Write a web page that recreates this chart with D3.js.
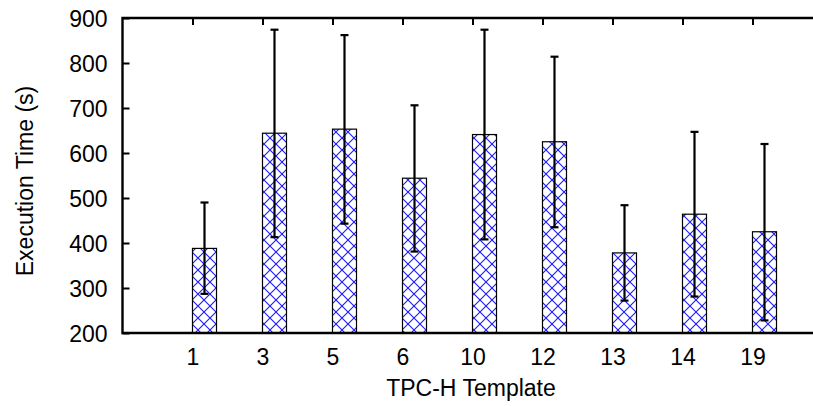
<!DOCTYPE html>
<html>
<head>
<meta charset="utf-8">
<script src="https://cdn.jsdelivr.net/npm/d3@7/dist/d3.min.js"></script>
<style>
  html, body { margin: 0; padding: 0; background: #fff; overflow: hidden; }
  svg { display: block; }
  text { font-family: "Liberation Sans", Arial, Helvetica, sans-serif; fill: #000; }
</style>
</head>
<body>
<svg id="chart" width="813" height="406"></svg>
<script>
// ---- data ----
const categories = ["1", "3", "5", "6", "10", "12", "13", "14", "19"];
const meanTimes  = [388, 644, 653, 544, 641, 625, 378, 464, 425];
const errLow     = [287, 413, 443, 381, 408, 435, 272, 281, 228];
const errHigh    = [490, 874, 862, 706, 874, 814, 484, 647, 620];
const yTicks     = [200, 300, 400, 500, 600, 700, 800, 900];
const xLabel = "TPC-H Template";
const yLabel = "Execution Time (s)";

(function () {
const W = 813;
const pLeft = 122.5, pTop = 18, pBottom = 333, pRight = 822.5;
const svg = d3.select("#chart");
const FS = 23;

const x = d3.scaleLinear().domain([0, categories.length + 1]).range([pLeft, pRight]);
const y = d3.scaleLinear().domain([200, 900]).range([pBottom, pTop]);
const barW = 24;

// blue cross-hatch fill
const defs = svg.append("defs");
const pat = defs.append("pattern")
  .attr("id", "hatch").attr("patternUnits", "userSpaceOnUse")
  .attr("width", 12).attr("height", 12).attr("x", 0).attr("y", 0);
pat.append("rect").attr("width", 12).attr("height", 12).attr("fill", "#fff");
pat.append("path").attr("d", "M-1,-1 L13,13 M-1,13 L13,-1")
  .attr("stroke", "#1a1aff").attr("stroke-width", 1.1).attr("fill", "none");

const g = svg.append("g");

// bars
g.selectAll("rect.bar").data(categories).enter().append("rect")
  .attr("class", "bar")
  .attr("x", (d, i) => x(i + 1))
  .attr("y", (d, i) => y(meanTimes[i]))
  .attr("width", barW)
  .attr("height", (d, i) => y(200) - y(meanTimes[i]))
  .attr("fill", "url(#hatch)")
  .attr("stroke", "#000").attr("stroke-width", 1.2);

// error bars
const eb = g.selectAll("g.err").data(categories).enter().append("g").attr("class", "err");
eb.append("line")
  .attr("x1", (d, i) => x(i + 1) + barW / 2).attr("x2", (d, i) => x(i + 1) + barW / 2)
  .attr("y1", (d, i) => y(errLow[i])).attr("y2", (d, i) => y(errHigh[i]))
  .attr("stroke", "#000").attr("stroke-width", 2.2);
eb.append("line")
  .attr("x1", (d, i) => x(i + 1) + barW / 2 - 4).attr("x2", (d, i) => x(i + 1) + barW / 2 + 4)
  .attr("y1", (d, i) => y(errLow[i])).attr("y2", (d, i) => y(errLow[i]))
  .attr("stroke", "#000").attr("stroke-width", 2.2);
eb.append("line")
  .attr("x1", (d, i) => x(i + 1) + barW / 2 - 4).attr("x2", (d, i) => x(i + 1) + barW / 2 + 4)
  .attr("y1", (d, i) => y(errHigh[i])).attr("y2", (d, i) => y(errHigh[i]))
  .attr("stroke", "#000").attr("stroke-width", 2.2);

// axes
const yAxis = d3.axisLeft(y).tickValues(yTicks).tickSize(-7).tickPadding(15);
const yA = svg.append("g").attr("transform", `translate(${pLeft},0)`).call(yAxis);
yA.select(".domain").remove();
yA.selectAll(".tick line").attr("stroke", "#000").attr("stroke-width", 2);
yA.selectAll(".tick text").attr("font-size", FS).attr("dy", "0.36em");

const xIdx = categories.map((d, i) => i + 1);
const xTop = svg.append("g").attr("transform", `translate(0,${pTop})`)
  .call(d3.axisTop(x).tickValues(xIdx).tickSize(-7).tickFormat(""));
xTop.select(".domain").remove();
xTop.selectAll(".tick line").attr("stroke", "#000").attr("stroke-width", 2);

const xBot = svg.append("g").attr("transform", `translate(0,${pBottom})`)
  .call(d3.axisBottom(x).tickValues(xIdx).tickSize(0).tickPadding(15.5).tickFormat((d) => categories[d - 1]));
xBot.select(".domain").remove();
xBot.selectAll(".tick text").attr("font-size", FS);

// frame (left, top, bottom; the right side lies beyond the visible area)
svg.append("path")
  .attr("d", `M${W + 5},${pTop} L${pLeft},${pTop} L${pLeft},${pBottom} L${W + 5},${pBottom}`)
  .attr("fill", "none").attr("stroke", "#000").attr("stroke-width", 2.4);

// labels
svg.append("text").attr("x", 471).attr("y", 396).attr("text-anchor", "middle")
  .attr("font-size", FS).text(xLabel);
svg.append("text").attr("transform", "translate(33,181) rotate(-90)").attr("text-anchor", "middle")
  .attr("font-size", FS).text(yLabel);
})();
</script>
</body>
</html>
